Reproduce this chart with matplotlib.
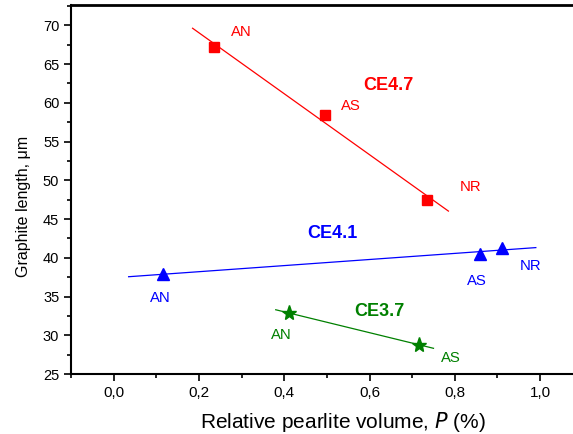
import numpy as np
import matplotlib
matplotlib.use("Agg")
import matplotlib.pyplot as plt
from matplotlib.ticker import MultipleLocator, FuncFormatter

plt.rcParams['font.family'] = ['Liberation Sans', 'DejaVu Sans']

# CE4.7 (red squares)
p_47 = [0.235, 0.495, 0.735]
l_47 = [67.2, 58.4, 47.5]
# CE4.1 (blue triangles)
p_41 = [0.115, 0.860, 0.910]
l_41 = [37.9, 40.5, 41.3]
# CE3.7 (green stars)
p_37 = [0.410, 0.715]
l_37 = [32.9, 28.8]

names_47 = ['AN', 'AS', 'NR']
names_41 = ['AN', 'AS', 'NR']
names_37 = ['AN', 'AS']

fig = plt.figure(figsize=(5.73, 4.34), dpi=100)
ax = fig.add_axes([0.124, 0.138, 0.95, 0.85])

def fit_line(px, py, x0, x1, c):
    k, b = np.polyfit(px, py, 1)
    xs = np.array([x0, x1])
    ax.plot(xs, k * xs + b, color=c, lw=0.9)

fit_line(p_47, l_47, 0.185, 0.785, 'red')
fit_line(p_41, l_41, 0.035, 0.99, 'blue')
fit_line(p_37, l_37, 0.38, 0.75, 'green')

ax.plot(p_47, l_47, 's', color='red', ms=7, ls='none')
ax.plot(p_41, l_41, '^', color='blue', ms=9, ls='none')
ax.plot(p_37, l_37, '*', color='green', ms=11, ls='none')

# point labels
for n, (x, y) in zip(names_47, [(0.30, 69.2), (0.556, 59.6), (0.838, 49.2)]):
    ax.text(x, y, n, color='red', fontsize=10.7, ha='center', va='center')
for n, (x, y) in zip(names_41, [(0.11, 34.8), (0.852, 37.0), (0.977, 38.9)]):
    ax.text(x, y, n, color='blue', fontsize=10.7, ha='center', va='center')
for n, (x, y) in zip(names_37, [(0.392, 30.0), (0.791, 27.1)]):
    ax.text(x, y, n, color='green', fontsize=10.7, ha='center', va='center')

ax.text(0.645, 62.3, 'CE4.7', color='red', fontsize=13, fontweight='bold', ha='center', va='center')
ax.text(0.514, 43.2, 'CE4.1', color='blue', fontsize=13, fontweight='bold', ha='center', va='center')
ax.text(0.622, 33.1, 'CE3.7', color='green', fontsize=13, fontweight='bold', ha='center', va='center')

# xlim chosen so that -0.1 sits on the left spine; right side runs off the image
ax.set_xlim(-0.1, -0.1 + 1.2 * 0.95 / 0.893)
ax.set_ylim(25, 72.6)
ax.xaxis.set_major_locator(MultipleLocator(0.2))
ax.xaxis.set_minor_locator(MultipleLocator(0.1))
ax.yaxis.set_major_locator(MultipleLocator(5))
ax.yaxis.set_minor_locator(MultipleLocator(2.5))
ax.xaxis.set_major_formatter(FuncFormatter(lambda v, p: ('%.1f' % v).replace('.', ',')))
ax.tick_params(which='major', direction='out', length=5, width=1.2)
ax.tick_params(which='minor', direction='out', length=3, width=1.2)
ax.tick_params(axis='x', labelsize=11)
ax.tick_params(axis='y', labelsize=10.5)
for s in ax.spines.values():
    s.set_linewidth(1.5)
ax.spines['top'].set_linewidth(2)

ax.set_xlabel('Relative pearlite volume, $\\it{P}$ (%)', fontsize=15, labelpad=7)
ax.set_ylabel('Graphite length, μm', fontsize=11.5)
ax.yaxis.set_label_coords(-40 / (0.95 * 573), 0.455)

fig.savefig('out.png', dpi=100)
